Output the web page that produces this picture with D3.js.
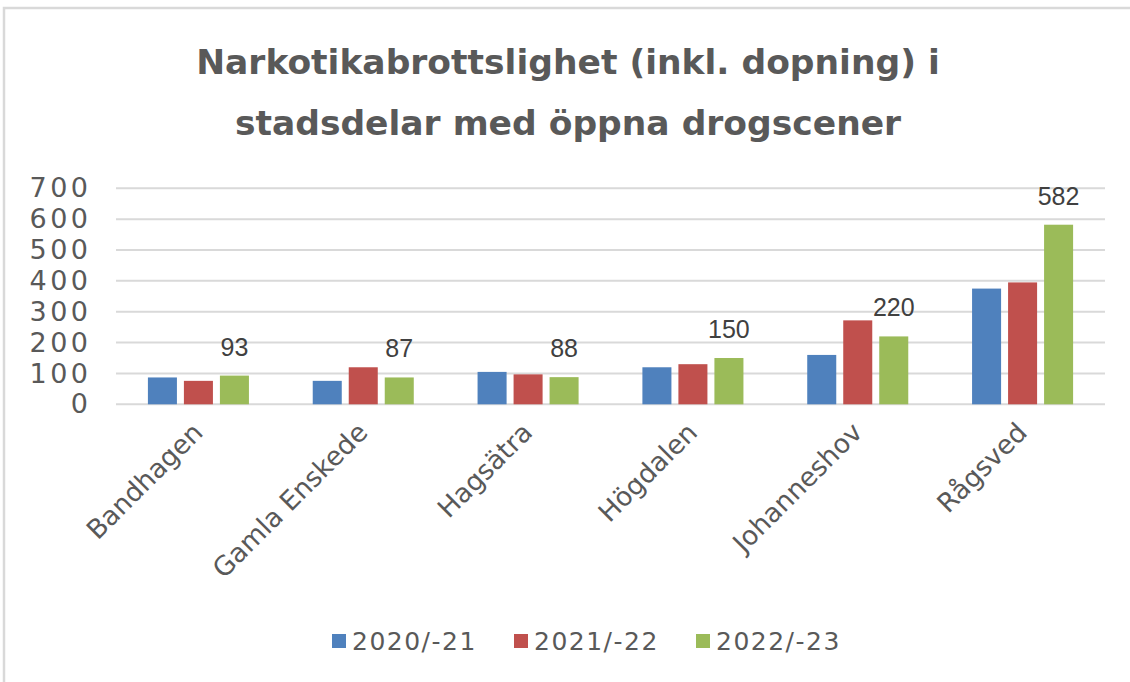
<!DOCTYPE html>
<html>
<head>
<meta charset="utf-8">
<script src="https://cdn.jsdelivr.net/npm/d3@7"></script>
<style>
  body { margin: 0; background: #fff; }
  svg { display: block; }
</style>
</head>
<body>
<svg id="chart" width="1130" height="682"></svg>
<script>
// data
const categories = ['Bandhagen', 'Gamla Enskede', 'Hagsätra', 'Högdalen', 'Johanneshov', 'Rågsved'];
const seriesNames = ['2020/-21', '2021/-22', '2022/-23'];
const s2020 = [87, 76, 105, 120, 160, 375];
const s2021 = [76, 120, 97, 130, 272, 395];
const s2022 = [93, 87, 88, 150, 220, 582];
const yTicks = [0, 100, 200, 300, 400, 500, 600, 700];
const titleLines = ['Narkotikabrottslighet (inkl. dopning) i', 'stadsdelar med öppna drogscener'];

const colors = ['#4F81BD', '#C0504D', '#9BBB59'];
const seriesValues = [s2020, s2021, s2022];

const svg = d3.select('#chart');
const textColor = '#595959';

// frame
svg.append('rect')
  .attr('x', 4).attr('y', 8)
  .attr('width', 1140).attr('height', 700)
  .attr('fill', 'none')
  .attr('stroke', '#d9d9d9')
  .attr('stroke-width', 2.5);

// title
svg.append('g')
  .selectAll('text')
  .data(titleLines)
  .join('text')
  .attr('x', 568)
  .attr('y', (d, i) => 74 + i * 61)
  .attr('text-anchor', 'middle')
  .attr('font-family', 'DejaVu Sans, sans-serif')
  .attr('font-weight', 'bold')
  .attr('font-size', 34.5)
  .attr('fill', textColor)
  .text(d => d);

// scales
const x0 = d3.scaleBand().domain(categories).range([116, 1105]).padding(0);
const x1 = d3.scaleBand().domain(seriesNames).range([0, x0.bandwidth()])
  .paddingInner(0.194).paddingOuter(0.886);
const y = d3.scaleLinear().domain([0, 700]).range([404.3, 188.3]);

// gridlines
svg.append('g')
  .selectAll('line')
  .data(yTicks)
  .join('line')
  .attr('x1', 116).attr('x2', 1105)
  .attr('y1', d => y(d)).attr('y2', d => y(d))
  .attr('stroke', '#d9d9d9')
  .attr('stroke-width', 2);

// y axis labels
const yAxis = d3.axisLeft(y).tickValues(yTicks).tickSize(0).tickPadding(0);
const gy = svg.append('g').attr('transform', 'translate(91.5,0)').call(yAxis);
gy.select('.domain').remove();
gy.selectAll('text')
  .attr('font-family', 'DejaVu Sans, sans-serif')
  .attr('font-size', 27)
  .attr('letter-spacing', 3.5)
  .attr('fill', textColor);

// bars
const groups = svg.append('g')
  .selectAll('g')
  .data(categories)
  .join('g')
  .attr('transform', d => 'translate(' + x0(d) + ',0)');

groups.selectAll('rect')
  .data((d, i) => seriesNames.map((s, j) => ({ s: s, v: seriesValues[j][i], j: j })))
  .join('rect')
  .attr('x', d => x1(d.s))
  .attr('y', d => y(d.v))
  .attr('width', x1.bandwidth())
  .attr('height', d => y(0) - y(d.v))
  .attr('fill', d => colors[d.j]);

// data labels (last series only)
svg.append('g')
  .selectAll('text')
  .data(categories)
  .join('text')
  .attr('x', (d, i) => x0(d) + x1(seriesNames[2]) + x1.bandwidth() / 2)
  .attr('y', (d, i) => y(s2022[i]) - 20)
  .attr('text-anchor', 'middle')
  .attr('font-family', 'Liberation Sans, Arial, sans-serif')
  .attr('font-size', 25)
  .attr('fill', '#404040')
  .text((d, i) => s2022[i]);

// category labels
svg.append('g')
  .selectAll('text')
  .data(categories)
  .join('text')
  .attr('transform', d => 'translate(' + (x0(d) + x0.bandwidth() / 2 + 6) + ',434) rotate(-45)')
  .attr('text-anchor', 'end')
  .attr('font-family', 'DejaVu Sans, sans-serif')
  .attr('font-size', 26.5)
  .attr('fill', textColor)
  .text(d => d);

// legend
const legend = svg.append('g')
  .selectAll('g')
  .data(seriesNames)
  .join('g')
  .attr('transform', (d, i) => 'translate(' + (332 + i * 182) + ',634)');

legend.append('rect')
  .attr('width', 14).attr('height', 14)
  .attr('fill', (d, i) => colors[i]);

legend.append('text')
  .attr('x', 20).attr('y', 16)
  .attr('font-family', 'DejaVu Sans, sans-serif')
  .attr('font-size', 25)
  .attr('letter-spacing', 1.5)
  .attr('fill', textColor)
  .text(d => d);
</script>
</body>
</html>
